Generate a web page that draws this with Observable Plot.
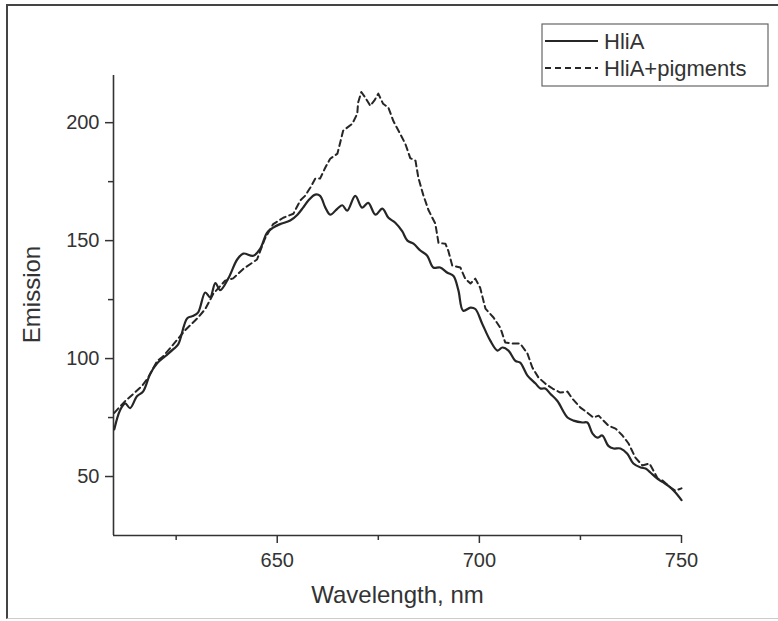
<!DOCTYPE html>
<html>
<head>
<meta charset="utf-8">
<script src="https://cdn.jsdelivr.net/npm/d3@7"></script>
<script src="https://cdn.jsdelivr.net/npm/@observablehq/plot@0.6"></script>
<style>
  html, body { margin: 0; padding: 0; background: #fff; }
  #wrap { position: relative; width: 778px; height: 621px; overflow: hidden; }
  #border { position: absolute; left: 6px; top: 4px; width: 780px; height: 615px;
            border-left: 2px solid #444; border-top: 2px solid #444; border-bottom: 1px solid #ccc; box-sizing: border-box; }
</style>
</head>
<body>
<div id="wrap"><div id="border"></div></div>
<script>
// ---- data ----
const seriesNames = ["HliA", "HliA+pigments"];
const xTitle = "Wavelength, nm";
const yTitle = "Emission";
const xDomain = [609.5, 750];
const yDomain = [25, 220];
const xTicks = [650, 700, 750];
const xMinorTicks = [625, 675, 725];
const yTicks = [50, 100, 150, 200];
const yMinorTicks = [75, 125, 175];

const wlSolid = [609.7, 611.1, 612.4, 613.6, 615.3, 616.8, 618.6, 620.3, 622.3, 624.3, 625.5, 627.7, 629.0, 630.4,
  632.2, 633.4, 634.7, 635.9, 637.9, 640.1, 641.6, 644.1, 645.8, 647.5, 649.0, 650.7, 653.2, 655.0, 656.4, 657.7,
  659.4, 660.6, 661.9, 663.1, 664.9, 666.1, 667.3, 669.3, 671.0, 672.5, 674.3, 676.0, 677.5, 679.2, 680.9, 682.2,
  683.7, 685.4, 687.1, 688.6, 690.3, 692.1, 693.6, 694.8, 696.0, 697.8, 699.0, 700.7, 702.7, 704.5, 705.7, 707.2,
  708.9, 710.1, 711.9, 713.9, 715.1, 716.3, 717.6, 719.3, 721.8, 723.3, 725.5, 726.7, 728.0, 729.2, 730.4, 731.9,
  733.2, 734.9, 736.6, 738.1, 739.9, 741.1, 742.3, 744.1, 745.5, 747.3, 748.5, 750];
const emSolid = [70, 78, 81, 79, 84, 86, 93.6, 98, 101, 104, 106, 117, 118, 119.5,
  128, 126, 132, 129, 134, 142, 144.5, 143.6, 146.6, 153.4, 155.5, 157, 158.5, 161, 164, 167,
  169.5, 169, 164, 161, 163.6, 165, 162.7, 169, 164, 166, 161, 163.6, 159.7, 157.6, 154, 150,
  148.7, 145.8, 143.6, 138.6, 138.6, 136.4, 135, 129, 120.3, 121.6, 121, 114.8, 107.6, 103.4, 104.7, 103.4,
  99, 98.3, 92.8, 89.4, 87.3, 87.3, 85, 82, 75, 73.7, 72.9, 72.9, 68.2, 66.5, 67.4, 63,
  61.9, 61.9, 59.7, 55.5, 53.8, 53.4, 51.7, 49, 47.5, 45.3, 43.2, 40];

const wlDashed = [609.7, 612.4, 614.4, 616.6, 618.1, 620.3, 621.8, 624.3, 627.2, 630.2, 632.2, 634.2, 637.1, 639.1,
  641.6, 645.0, 647.0, 649.0, 651.5, 654.0, 655.7, 656.9, 658.2, 659.4, 660.6, 661.9, 663.1, 664.9, 666.3, 668.6,
  669.8, 670.0, 670.8, 671.8, 673.0, 674.0, 675.0, 676.2, 677.5, 678.7, 680.4, 681.7, 682.9, 684.2, 684.9, 686.1,
  687.4, 689.1, 689.9, 691.6, 692.3, 693.3, 695.3, 696.5, 697.8, 699.0, 700.2, 701.5, 703.5, 705.2, 706.4, 708.4,
  710.1, 711.9, 713.1, 714.6, 716.3, 718.1, 720.0, 721.8, 723.0, 725.0, 726.7, 728.2, 729.5, 730.7, 731.9, 733.7,
  735.4, 736.9, 738.6, 740.3, 742.1, 744.1, 745.3, 747.3, 748.5, 750];
const emDashed = [77, 82, 85, 88.5, 92, 99, 101, 106, 112, 117, 121, 127.5, 133, 134,
  138, 142, 151, 157, 159.7, 161.4, 167, 169, 172.5, 176.3, 176.3, 181, 184.7, 186.9, 196.6, 199.6,
  203.8, 208.5, 213, 210.6, 207.2, 209.3, 212.3, 208, 206.4, 200.8, 195.3, 191, 185, 183.9, 176.7, 169.5,
  163, 157.2, 149, 148.7, 145.8, 139.4, 138.6, 133.9, 131.8, 133.9, 130, 121.2, 117.4, 113, 106.8, 106.4,
  106.4, 102.1, 96.2, 92, 89.4, 87.3, 85.6, 86, 83, 79.2, 77.1, 75, 75.8, 73.7, 71.6, 70.3,
  67.4, 64, 58, 54.7, 55.5, 49.2, 48.3, 45.3, 44, 45];

const solid = wlSolid.map((w, i) => ({w, v: emSolid[i]}));
const dashed = wlDashed.map((w, i) => ({w, v: emDashed[i]}));

const ink = "#262626";
const textInk = "#333";
const font = "'Liberation Sans', Arial, sans-serif";

const chart = Plot.plot({
  width: 778,
  height: 621,
  marginLeft: 113,
  marginRight: 97,
  marginTop: 75,
  marginBottom: 86,
  style: {fontFamily: font, fontSize: "20px", color: textInk, background: "transparent", overflow: "visible"},
  x: {domain: xDomain},
  y: {domain: yDomain},
  marks: [
    Plot.axisX({ticks: xTicks, tickSize: 8, tickPadding: 9, fontSize: 20, label: null, strokeWidth: 1.5}),
    Plot.axisX({ticks: xMinorTicks, tickSize: 5, tickFormat: () => "", label: null, strokeWidth: 1.5}),
    Plot.axisY({ticks: yTicks, tickSize: 8, tickPadding: 6, fontSize: 20, label: null, strokeWidth: 1.5}),
    Plot.axisY({ticks: yMinorTicks, tickSize: 5, tickFormat: () => "", label: null, strokeWidth: 1.5}),
    Plot.ruleX([xDomain[0]], {stroke: "#333", strokeWidth: 1.6}),
    Plot.ruleY([yDomain[0]], {stroke: "#333", strokeWidth: 1.6}),
    Plot.text([xTitle], {frameAnchor: "bottom", textAnchor: "middle", lineAnchor: "bottom", dy: 67, fontSize: 24, fill: textInk}),
    Plot.text([yTitle], {frameAnchor: "left", textAnchor: "middle", lineAnchor: "middle", dx: -81, dy: -11, rotate: -90, fontSize: 24, fill: textInk}),
    Plot.line(dashed, {x: "w", y: "v", stroke: ink, strokeWidth: 2, strokeDasharray: "6,4"}),
    Plot.line(solid, {x: "w", y: "v", stroke: ink, strokeWidth: 2.2, curve: "catmull-rom"})
  ]
});

document.getElementById("wrap").appendChild(chart);
chart.style.position = "absolute";
chart.style.left = "0px";
chart.style.top = "0px";

// legend (inside the svg)
const svg = d3.select(chart);
const lg = svg.append("g").attr("font-family", font).attr("font-size", 22)
  .attr("fill", textInk).attr("text-anchor", "start");
lg.append("rect").attr("x", 542).attr("y", 24).attr("width", 226).attr("height", 62)
  .attr("fill", "white").attr("stroke", "#666").attr("stroke-width", 1.2);
const rows = [{name: seriesNames[0], dash: "none"}, {name: seriesNames[1], dash: "6,4"}];
rows.forEach((r, i) => {
  const yy = 41 + i * 27;
  lg.append("line").attr("x1", 545).attr("x2", 598).attr("y1", yy).attr("y2", yy)
    .attr("stroke", ink).attr("stroke-width", 2).attr("stroke-dasharray", r.dash);
  lg.append("text").attr("x", 604).attr("y", yy + 7.5).attr("text-anchor", "start").text(r.name);
});
</script>
</body>
</html>
